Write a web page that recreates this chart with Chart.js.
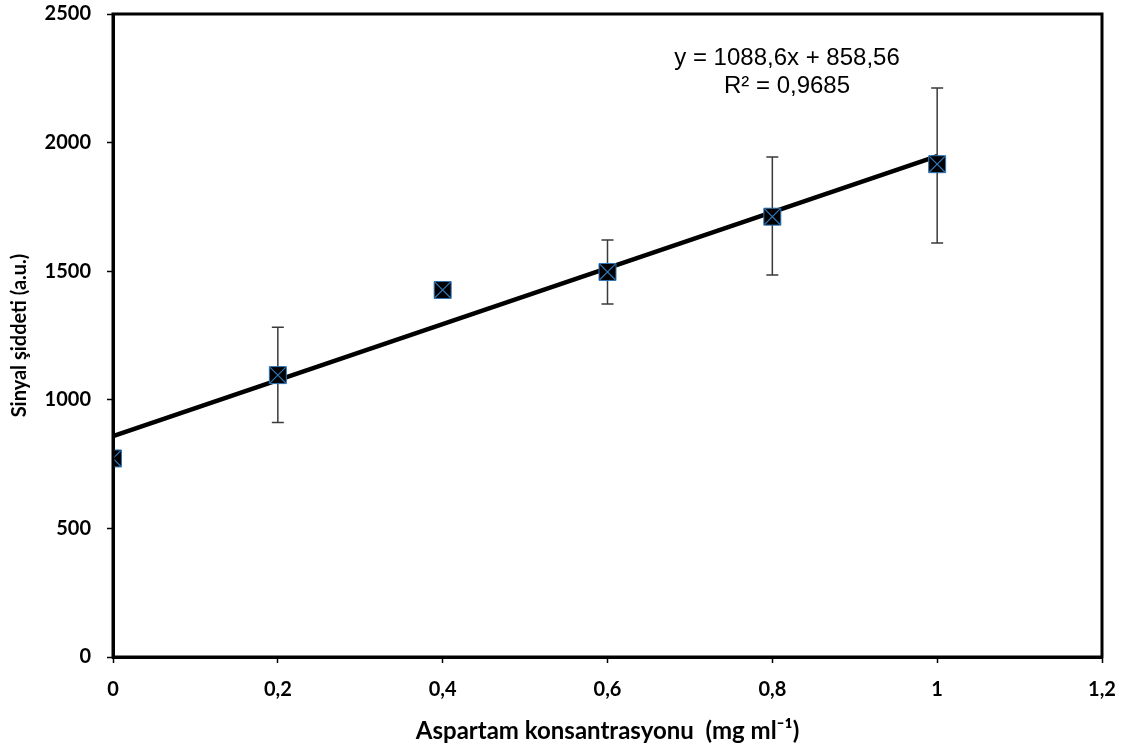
<!DOCTYPE html>
<html>
<head>
<meta charset="utf-8">
<script src="https://cdn.jsdelivr.net/npm/chart.js@4.4.1/dist/chart.umd.min.js"></script>
<style>
  html, body { margin: 0; padding: 0; background: #fff; }
  #wrap { width: 1125px; height: 746px; }
</style>
</head>
<body>
<div id="wrap"><canvas id="chart" width="1125" height="746"></canvas></div>
<script>
// Messwerte
const concentrations = [0, 0.2, 0.4, 0.6, 0.8, 1.0];
const signal = [772, 1096, 1427, 1497, 1712, 1916];
const errLow = [772, 912, 1427, 1372, 1485, 1610];
const errHigh = [772, 1282, 1427, 1621, 1944, 2212];
const yTicks = [0, 500, 1000, 1500, 2000, 2500];
const xTicks = [0, 0.2, 0.4, 0.6, 0.8, 1, 1.2];

// Regressionsgerade (aus der Gleichung im Diagramm)
const slope = 1088.6;
const intercept = 858.56;
const fitX = [0, 1];

const markerBlue = "#2e75b6";
const tickFont = { family: "Lato", size: 20, weight: "bold" };

const points = concentrations.map((x, i) => ({ x: x, y: signal[i] }));
const fitLine = fitX.map(x => ({ x: x, y: slope * x + intercept }));

// Fehlerbalken + Rahmen + Gleichung
const extras = {
    id: "extras",
    beforeDatasetsDraw(chart) {
        const { ctx, scales: { x, y } } = chart;
        ctx.save();
        ctx.strokeStyle = "#3a3a3a";
        ctx.lineWidth = 1.5;
        concentrations.forEach((c, i) => {
            if (errHigh[i] === errLow[i]) return;
            const px = x.getPixelForValue(c);
            const top = y.getPixelForValue(errHigh[i]);
            const bot = y.getPixelForValue(errLow[i]);
            ctx.beginPath();
            ctx.moveTo(px, top); ctx.lineTo(px, bot);
            ctx.moveTo(px - 6, top); ctx.lineTo(px + 6, top);
            ctx.moveTo(px - 6, bot); ctx.lineTo(px + 6, bot);
            ctx.stroke();
        });
        ctx.restore();
    },
    afterDraw(chart) {
        const { ctx, chartArea: a } = chart;
        ctx.save();
        ctx.strokeStyle = "#000";
        ctx.lineWidth = 3;
        ctx.strokeRect(a.left, a.top, a.right - a.left, a.bottom - a.top);
        ctx.fillStyle = "#000";
        ctx.font = "24px 'Liberation Sans', Arial, sans-serif";
        ctx.textAlign = "center";
        ctx.textBaseline = "middle";
        ctx.fillText("y = 1088,6x + 858,56", 787, 58);
        ctx.fillText("R² = 0,9685", 787, 86);
        ctx.restore();
    }
};

const ctx = document.getElementById("chart").getContext("2d");
new Chart(ctx, {
    type: "scatter",
    data: {
        datasets: [
            {
                label: "Trend",
                type: "line",
                data: fitLine,
                borderColor: "#000",
                borderWidth: 4.5,
                pointRadius: 0,
                fill: false,
                order: 3
            },
            {
                label: "Sinyal",
                data: points,
                pointStyle: "rect",
                pointRadius: 12,
                backgroundColor: "#000",
                borderColor: markerBlue,
                borderWidth: 1,
                order: 2
            },
            {
                label: "Kreuz",
                data: points,
                pointStyle: "crossRot",
                pointRadius: 11,
                borderColor: markerBlue,
                borderWidth: 1.2,
                order: 1
            }
        ]
    },
    options: {
        responsive: false,
        animation: false,
        layout: { padding: { top: 14, right: 23, left: 0, bottom: 0 } },
        plugins: {
            legend: { display: false },
            tooltip: { enabled: false }
        },
        scales: {
            x: {
                type: "linear",
                min: 0,
                max: 1.2,
                afterBuildTicks: s => { s.ticks = xTicks.map(v => ({ value: v })); },
                afterFit: s => { s.height = 89; s.paddingRight = 0; s.paddingLeft = 0; },
                border: { color: "#000", width: 3 },
                grid: { drawOnChartArea: false, drawTicks: true, tickLength: 6, color: "#000", tickWidth: 1.5 },
                ticks: {
                    color: "#000",
                    font: tickFont,
                    padding: 15,
                    callback: v => String(Math.round(v * 10) / 10).replace(".", ",")
                },
                title: {
                    display: true,
                    text: "Aspartam konsantrasyonu  (mg ml⁻¹)",
                    color: "#000",
                    font: { family: "Lato", size: 24, weight: "bold" },
                    padding: { top: 2, bottom: 0 }
                }
            },
            y: {
                min: 0,
                max: 2500,
                afterBuildTicks: s => { s.ticks = yTicks.map(v => ({ value: v })); },
                afterFit: s => { s.width = 113; s.paddingTop = 0; s.paddingBottom = 0; },
                border: { color: "#000", width: 3 },
                grid: { drawOnChartArea: false, drawTicks: true, tickLength: 6, color: "#000", tickWidth: 1.5 },
                ticks: {
                    color: "#000",
                    font: tickFont,
                    padding: 16,
                    callback: v => String(v)
                },
                title: {
                    display: true,
                    text: "Sinyal şiddeti (a.u.)",
                    color: "#000",
                    font: { family: "Lato", size: 20, weight: "bold" },
                    padding: { top: 8, bottom: 4 }
                }
            }
        }
    },
    plugins: [extras]
});
</script>
</body>
</html>
